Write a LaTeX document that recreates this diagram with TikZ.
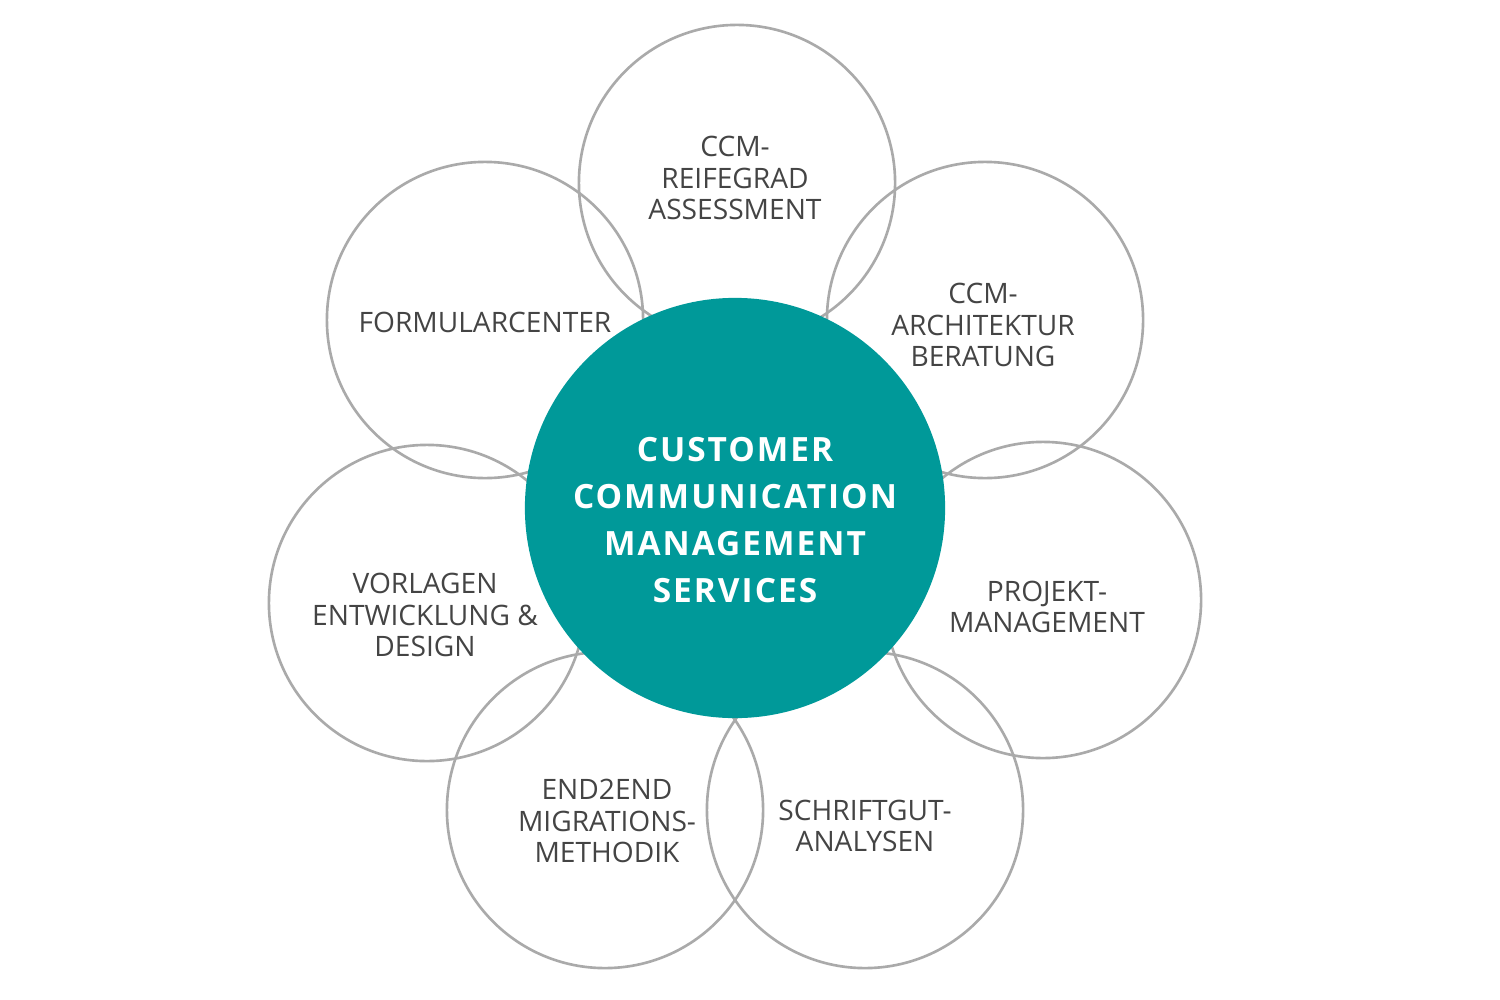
\documentclass[tikz,border=0pt]{standalone}
\usepackage{fontspec}
\setmainfont{Open Sans}
\newfontfamily\hubfont[LetterSpace=6]{Open Sans}
\definecolor{teal1}{RGB}{0,153,153}
\definecolor{ring}{RGB}{170,170,170}
\definecolor{txt}{RGB}{68,68,68}
\begin{document}
\begin{tikzpicture}[x=0.01cm,y=-0.01cm,
  petal/.style={circle,draw=ring,line width=0.75pt,minimum size=3.16cm,inner sep=0pt},
  lbl/.style={align=center,text=txt,font=\fontsize{8}{9}\selectfont},
  hub/.style={circle,fill=teal1,minimum size=4.2cm,inner sep=0pt}]
\useasboundingbox (0,0) rectangle (1500,1000);
\node[petal] (p1) at (737,183) {};
\node[petal] (p2) at (985,320) {};
\node[petal] (p3) at (485,320) {};
\node[petal] (p4) at (1043,600) {};
\node[petal] (p5) at (427,603) {};
\node[petal] (p6) at (605,810) {};
\node[petal] (p7) at (865,810) {};
\node[hub] (c) at (735,508) {};
\node[align=center,text=white,font=\hubfont\fontsize{9.5}{13.3}\selectfont\bfseries] (ct) at (735,520)
 {CUSTOMER\\COMMUNICATION\\MANAGEMENT\\SERVICES};
\node[lbl] (t1) at (735,178) {CCM-\\REIFEGRAD\\ASSESSMENT};
\node[lbl] (t2) at (983,325) {CCM-\\ARCHITEKTUR\\BERATUNG};
\node[lbl] (t3) at (485,322) {FORMULARCENTER};
\node[lbl] (t4) at (1047,607) {PROJEKT-\\MANAGEMENT};
\node[lbl] (t5) at (425,615) {VORLAGEN\\ENTWICKLUNG \&\\DESIGN};
\node[lbl] (t6) at (607,821) {END2END\\MIGRATIONS-\\METHODIK};
\node[lbl] (t7) at (865,826) {SCHRIFTGUT-\\ANALYSEN};
\end{tikzpicture}
\end{document}
